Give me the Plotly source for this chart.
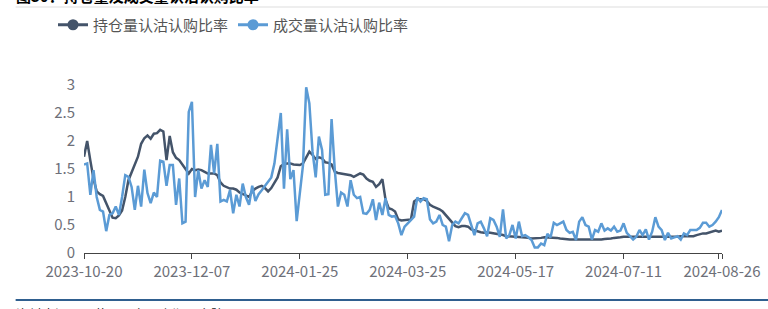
import pandas as pd
import plotly.graph_objects as go

# ---------------- data ----------------
holidays = ["2024-01-01", "2024-02-09", "2024-02-12", "2024-02-13", "2024-02-14",
            "2024-02-15", "2024-02-16", "2024-04-04", "2024-04-05", "2024-05-01",
            "2024-05-02", "2024-05-03", "2024-06-10"]
missing_days = ["2024-03-04", "2024-03-11", "2024-05-27", "2024-06-03",
                "2024-06-17", "2024-06-24", "2024-08-05"]
dates = [d.strftime("%Y-%m-%d") for d in pd.bdate_range("2023-10-20", "2024-08-26")
         if d.strftime("%Y-%m-%d") not in holidays + missing_days]

tick_labels = ["2023-10-20", "2023-12-07", "2024-01-25", "2024-03-25",
               "2024-05-17", "2024-07-11", "2024-08-26"]

oi_ratio = [  # 持仓量认沽认购比率
    1.72, 2.0, 1.65, 1.32, 1.1, 1.05, 1.02, 0.9, 0.75, 0.63,
    0.62, 0.67, 0.76, 1.0, 1.3, 1.45, 1.58, 1.72, 1.95, 2.05,
    2.1, 2.04, 2.13, 2.14, 2.2, 2.17, 1.66, 2.09, 1.8, 1.7,
    1.66, 1.58, 1.5, 1.42, 1.5, 1.48, 1.49, 1.48, 1.45, 1.42,
    1.42, 1.42, 1.39, 1.26, 1.2, 1.17, 1.15, 1.15, 1.13, 1.08,
    1.05, 1.02, 1.0, 1.1, 1.15, 1.18, 1.2, 1.16, 1.1, 1.16,
    1.25, 1.35, 1.55, 1.59, 1.6, 1.6, 1.58, 1.57, 1.57, 1.6,
    1.7, 1.81, 1.75, 1.68, 1.71, 1.69, 1.62, 1.61, 1.58, 1.45,
    1.43, 1.42, 1.41, 1.41, 1.39, 1.36, 1.39, 1.42, 1.4, 1.33,
    1.29, 1.27, 1.18, 1.23, 1.32, 0.95, 0.8, 0.78, 0.74, 0.6,
    0.58, 0.59, 0.6, 0.6, 0.92, 0.96, 0.96, 0.96, 0.93, 0.86,
    0.83, 0.81, 0.78, 0.74, 0.67, 0.6, 0.53, 0.48, 0.46, 0.48,
    0.48, 0.47, 0.42, 0.4, 0.38, 0.37, 0.36, 0.37, 0.36, 0.35,
    0.35, 0.34, 0.32, 0.3, 0.3, 0.29, 0.29, 0.286, 0.285, 0.28,
    0.27, 0.26, 0.26, 0.26, 0.27, 0.28, 0.28, 0.28, 0.28, 0.27,
    0.26, 0.25, 0.25, 0.24, 0.24, 0.24, 0.24, 0.24, 0.23, 0.23,
    0.23, 0.23, 0.24, 0.24, 0.25, 0.25, 0.26, 0.27, 0.27, 0.28,
    0.29, 0.29, 0.29, 0.28, 0.28, 0.28, 0.28, 0.28, 0.28, 0.28,
    0.28, 0.28, 0.28, 0.29, 0.29, 0.29, 0.29, 0.29, 0.3, 0.3,
    0.3, 0.3, 0.3, 0.32, 0.34, 0.35, 0.35, 0.37, 0.38, 0.4,
    0.38, 0.4,
]

vol_ratio = [  # 成交量认沽认购比率
    1.58, 1.6, 1.04, 1.48, 1.0, 0.77, 0.74, 0.39, 0.68, 0.71,
    0.83, 0.68, 1.0, 1.39, 1.36, 1.18, 0.77, 1.2, 0.83, 1.49,
    1.07, 0.89, 1.08, 1.0, 1.65, 1.63, 1.2, 1.57, 1.57, 0.86,
    1.33, 0.53, 0.56, 2.52, 2.7, 1.0, 1.48, 1.15, 1.3, 1.18,
    1.93, 1.42, 1.95, 0.92, 0.95, 0.92, 1.125, 0.71, 1.04, 0.83,
    1.24, 1.0, 0.86, 1.2, 0.93, 1.05, 1.12, 1.2, 1.28, 1.35,
    1.6, 2.02, 2.5, 1.15, 2.21, 1.32, 1.48, 0.57, 1.125, 1.57,
    2.96, 2.67, 1.81, 1.35, 2.08, 1.84, 1.04, 1.05, 2.39, 1.49,
    0.83, 1.08, 1.04, 0.83, 1.3, 1.04, 0.98, 1.0, 0.71, 0.7,
    0.77, 0.96, 0.59, 0.9, 0.68, 0.98, 0.68, 0.65, 0.66, 0.53,
    0.32, 0.47, 0.53, 0.6, 0.65, 0.99, 0.92, 0.98, 0.96, 0.6,
    0.53, 0.56, 0.68, 0.5, 0.47, 0.21, 0.5, 0.56, 0.53, 0.62,
    0.71, 0.68, 0.5, 0.32, 0.53, 0.56, 0.44, 0.3, 0.62, 0.59,
    0.47, 0.29, 0.78, 0.26, 0.32, 0.5, 0.26, 0.56, 0.3, 0.32,
    0.28, 0.23, 0.1, 0.1, 0.17, 0.14, 0.34, 0.28, 0.54, 0.5,
    0.53, 0.56, 0.41, 0.36, 0.38, 0.23, 0.56, 0.64, 0.5, 0.47,
    0.24, 0.41, 0.38, 0.53, 0.4, 0.44, 0.4, 0.47, 0.38, 0.4,
    0.53, 0.36, 0.3, 0.24, 0.29, 0.41, 0.32, 0.42, 0.24, 0.38,
    0.64, 0.47, 0.41, 0.23, 0.36, 0.26, 0.28, 0.3, 0.24, 0.35,
    0.32, 0.41, 0.41, 0.41, 0.45, 0.54, 0.54, 0.47, 0.5, 0.56,
    0.64, 0.77,
]

series_names = ["持仓量认沽认购比率", "成交量认沽认购比率"]
colors = ["#44546A", "#5B9BD5"]

# ---------------- figure ----------------
FONT = "Noto Sans CJK SC, Microsoft YaHei, sans-serif"
W, H = 768, 309
L, R, T, B = 84.3, 46.3, 85, 56
pw, ph = W - L - R, H - T - B


def px2x(px):
    return (px - L) / pw


def px2y(py):
    return (H - B - py) / ph


fig = go.Figure()
for name, vals, col in zip(series_names, [oi_ratio, vol_ratio], colors):
    fig.add_trace(go.Scatter(x=dates, y=vals, mode="lines", name=name,
                             line=dict(color=col, width=2.5), showlegend=False,
                             legendgroup=name))
    fig.add_trace(go.Scatter(x=[None], y=[None], mode="lines+markers", name=name,
                             line=dict(color=col, width=3),
                             marker=dict(color=col, size=11, symbol="circle"),
                             legendgroup=name, showlegend=True))

tickvals = [dates[0], dates[34], dates[68], dates[102], dates[136], dates[170],
            dates[-2], dates[-1]]
ticktext = tick_labels[:6] + [""] + [tick_labels[6]]

fig.update_xaxes(type="category", range=[0, len(dates) - 1], automargin=False,
                 tickmode="array", tickvals=tickvals, ticktext=ticktext,
                 showline=True, linecolor="#444444", linewidth=1,
                 ticks="outside", ticklen=5, tickcolor="#444444", tickwidth=1,
                 showgrid=False, zeroline=False,
                 tickfont=dict(family=FONT, size=15, color="#6E7079"))
fig.update_yaxes(range=[0, 3], tickmode="array", automargin=False,
                 tickvals=[0, 0.5, 1, 1.5, 2, 2.5, 3],
                 ticktext=["0", "0.5", "1", "1.5", "2", "2.5", "3"],
                 showline=False, showgrid=False, zeroline=False,
                 ticklabelstandoff=8,
                 tickfont=dict(family=FONT, size=15, color="#6E7079"))

fig.add_annotation(text="<b>图30：持仓量及成交量认沽认购比率</b>", xref="paper", yref="paper",
                   x=px2x(14), y=px2y(8), xanchor="left", yanchor="bottom",
                   showarrow=False, font=dict(family=FONT, size=15, color="#000000"))
fig.add_annotation(text="资料来源：同花顺，东亚中期研究院", xref="paper", yref="paper",
                   x=px2x(14), y=px2y(302), xanchor="left", yanchor="top",
                   showarrow=False, font=dict(family=FONT, size=13, color="#222222"))
fig.add_shape(type="line", xref="paper", yref="paper",
              x0=px2x(16), x1=px2x(770), y0=px2y(7), y1=px2y(7),
              line=dict(color="#DDDDDD", width=1))
fig.add_shape(type="line", xref="paper", yref="paper",
              x0=px2x(16), x1=px2x(770), y0=px2y(300), y1=px2y(300),
              line=dict(color="#2F5F8F", width=2))

fig.update_layout(
    width=W, height=H, autosize=False,
    margin=dict(l=L, r=R, t=T, b=B, pad=0, autoexpand=False),
    paper_bgcolor="white", plot_bgcolor="white",
    font=dict(family=FONT, size=15, color="#555555"),
    legend=dict(orientation="h", xref="container", yref="container",
                x=53 / W, y=1 - 25 / H, xanchor="left", yanchor="middle",
                itemwidth=30, entrywidth=135,
                font=dict(family=FONT, size=15, color="#555555"),
                bgcolor="rgba(0,0,0,0)"),
    hovermode=False,
)

fig.write_html("out.html")
